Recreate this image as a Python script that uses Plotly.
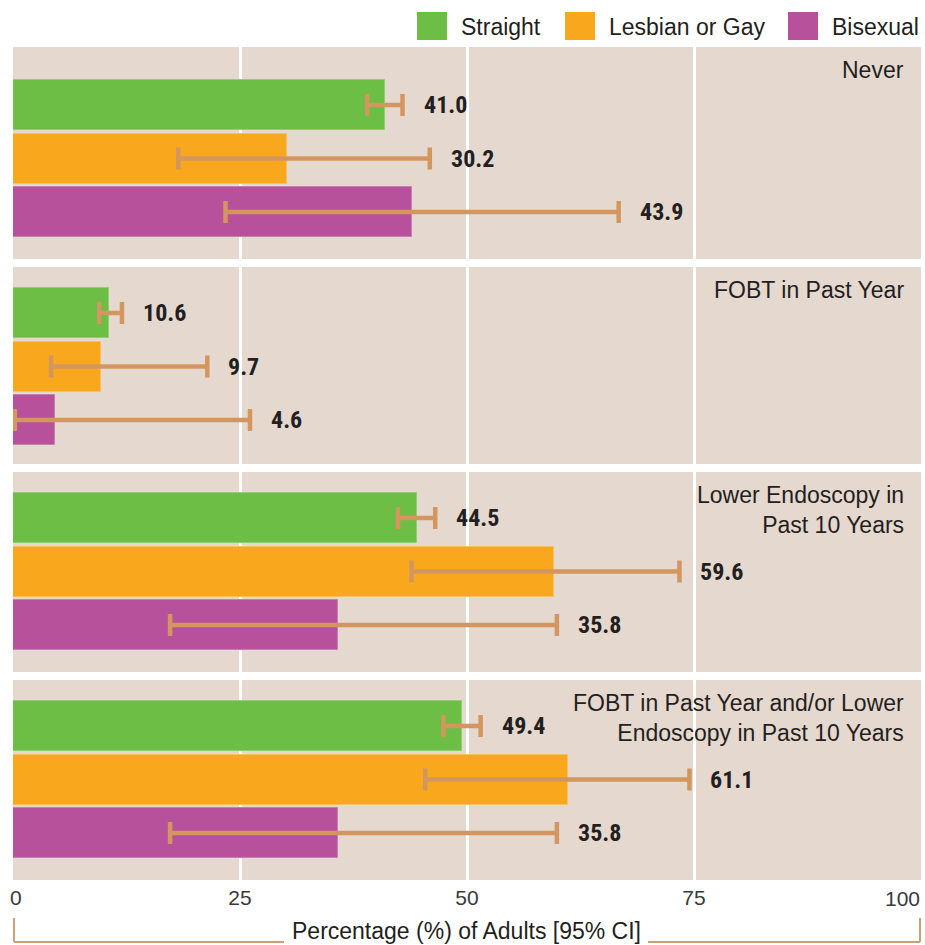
import plotly.graph_objects as go

# ---------------- data ----------------
measures = ["Never", "FOBT in Past Year", "Lower Endoscopy in<br>Past 10 Years",
            "FOBT in Past Year and/or Lower<br>Endoscopy in Past 10 Years"]
groups = ["Straight", "Lesbian or Gay", "Bisexual"]
colors = ["#6CBE45", "#F9A81D", "#B7519B"]
edge_colors = ["#8FCF72", "#FBC05E", "#C97DB5"]

straight = [41.0, 10.6, 44.5, 49.4]
lesbian_gay = [30.2, 9.7, 59.6, 61.1]
bisexual = [43.9, 4.6, 35.8, 35.8]

straight_lo = [39.0, 9.5, 42.4, 47.4]
straight_hi = [42.9, 12.0, 46.5, 51.5]
lesbian_gay_lo = [18.2, 4.2, 43.9, 45.4]
lesbian_gay_hi = [45.9, 21.4, 73.4, 74.5]
bisexual_lo = [23.4, 0.2, 17.3, 17.3]
bisexual_hi = [66.7, 26.1, 59.9, 59.9]

x_ticks = [0, 25, 50, 75, 100]
x_tick_text = ["\u00a00", "25", "50", "75", ""]
x_end_label = "100"
x_title = "Percentage (%) of Adults [95% CI]"

# ---------------- layout geometry (pixels) ----------------
W, H = 925, 945
L, R, T, B = 13, 921, 47, 880
PW, PH = R - L, B - T


def px(p):
    return (p - L) / PW


def py(p):
    return (B - p) / PH


# panel top, bottom, padding above first bar
panels = [(47, 259, 33), (267, 464, 21), (472, 672, 21), (680, 880, 21)]
pitch, bar_h = 53.5, 50.0

ERR = "#D3965F"
BG = "#E5D8CF"
TXT = "#231F20"
LABEL_FONT = dict(family="Liberation Sans Narrow, Roboto Condensed, DejaVu Sans Condensed, sans-serif",
                  size=24, color=TXT, weight="bold")
FONT = "Liberation Sans, Arial, Helvetica, sans-serif"
TICK_FONT = dict(family=FONT, size=21, color="#3A3A3A")

series = [straight, lesbian_gay, bisexual]
series_lo = [straight_lo, lesbian_gay_lo, bisexual_lo]
series_hi = [straight_hi, lesbian_gay_hi, bisexual_hi]

fig = go.Figure()
annotations = []
layout_axes = {}

for i, (pt, pb, pad) in enumerate(panels):
    k = "" if i == 0 else str(i + 1)
    vals = [s[i] for s in series]
    lo = [s[i] for s in series_lo]
    hi = [s[i] for s in series_hi]
    fig.add_trace(go.Bar(
        x=vals, y=groups, orientation="h",
        xaxis="x" + k, yaxis="y" + k,
        width=bar_h / pitch,
        marker=dict(color=colors, line=dict(color=edge_colors, width=1)),
        error_x=dict(type="data", symmetric=False,
                     array=[h - v for h, v in zip(hi, vals)],
                     arrayminus=[v - l for v, l in zip(vals, lo)],
                     color=ERR, thickness=4.5, width=11),
        showlegend=False, hoverinfo="skip",
    ))
    for g, v, h in zip(groups, vals, hi):
        annotations.append(dict(x=h, y=g, xref="x" + k, yref="y" + k, text=f"{v:.1f}",
                                showarrow=False, xanchor="left", yanchor="middle",
                                xshift=19, font=LABEL_FONT))
    annotations.append(dict(x=px(906), y=py(pt), xref="paper", yref="paper",
                            text=measures[i], showarrow=False, xanchor="right",
                            yanchor="top", yshift=-8, align="right",
                            font=dict(family=FONT, size=23, color=TXT)))
    top = -(bar_h / 2 + pad) / pitch
    bottom = top + (pb - pt) / pitch
    layout_axes["yaxis" + k] = dict(domain=[py(pb), py(pt)], range=[bottom, top],
                                    anchor="x" + k, showticklabels=False, showgrid=False,
                                    zeroline=False, fixedrange=True)
    xa = dict(domain=[0, 1], range=[0, 100], anchor="y" + k, zeroline=False,
              showgrid=False, ticks="", fixedrange=True,
              minor=dict(tickvals=[25, 50, 75], showgrid=True, gridcolor="white", gridwidth=3),
              tickvals=x_ticks)
    if i == len(panels) - 1:
        xa.update(ticktext=x_tick_text, showticklabels=True, ticklabelstandoff=3,
                  tickfont=TICK_FONT)
    else:
        xa.update(showticklabels=False)
    if i > 0:
        xa["matches"] = "x"
    layout_axes["xaxis" + k] = xa

# right-most tick label, right-aligned to the axis end so it stays inside the page
annotations.append(dict(x=x_ticks[-1], xref="x4", y=py(898), yref="paper", text=x_end_label,
                        showarrow=False, xanchor="right", yanchor="middle", xshift=1,
                        font=TICK_FONT))

# axis title
annotations.append(dict(x=px(466), y=py(931), xref="paper", yref="paper", text=x_title,
                        showarrow=False, xanchor="center", yanchor="middle",
                        font=dict(family=FONT, size=23, color=TXT)))

shapes = []
bracket = dict(type="line", xref="paper", yref="paper", line=dict(color="#C9A27A", width=2))
shapes.append(dict(bracket, x0=px(14), x1=px(14), y0=py(918), y1=py(942)))
shapes.append(dict(bracket, x0=px(920), x1=px(920), y0=py(918), y1=py(942)))
shapes.append(dict(bracket, x0=px(14), x1=px(284), y0=py(942), y1=py(942)))
shapes.append(dict(bracket, x0=px(648), x1=px(920), y0=py(942), y1=py(942)))

# custom legend
legend_px = [417, 565, 788]
for g, c, lx in zip(groups, colors, legend_px):
    shapes.append(dict(type="rect", xref="paper", yref="paper", x0=px(lx), x1=px(lx + 30),
                       y0=py(40), y1=py(12), fillcolor=c, line=dict(width=0)))
    annotations.append(dict(x=px(lx + 42), y=py(27), xref="paper", yref="paper", text=g,
                            showarrow=False, xanchor="left", yanchor="middle",
                            font=dict(family=FONT, size=23, color=TXT)))

fig.update_layout(
    width=W, height=H,
    margin=dict(l=L, r=W - R, t=T, b=H - B, autoexpand=False),
    paper_bgcolor="white", plot_bgcolor=BG,
    barmode="group", bargap=0,
    annotations=annotations, shapes=shapes,
    showlegend=False,
    **layout_axes,
)

fig.write_html("out.html")
